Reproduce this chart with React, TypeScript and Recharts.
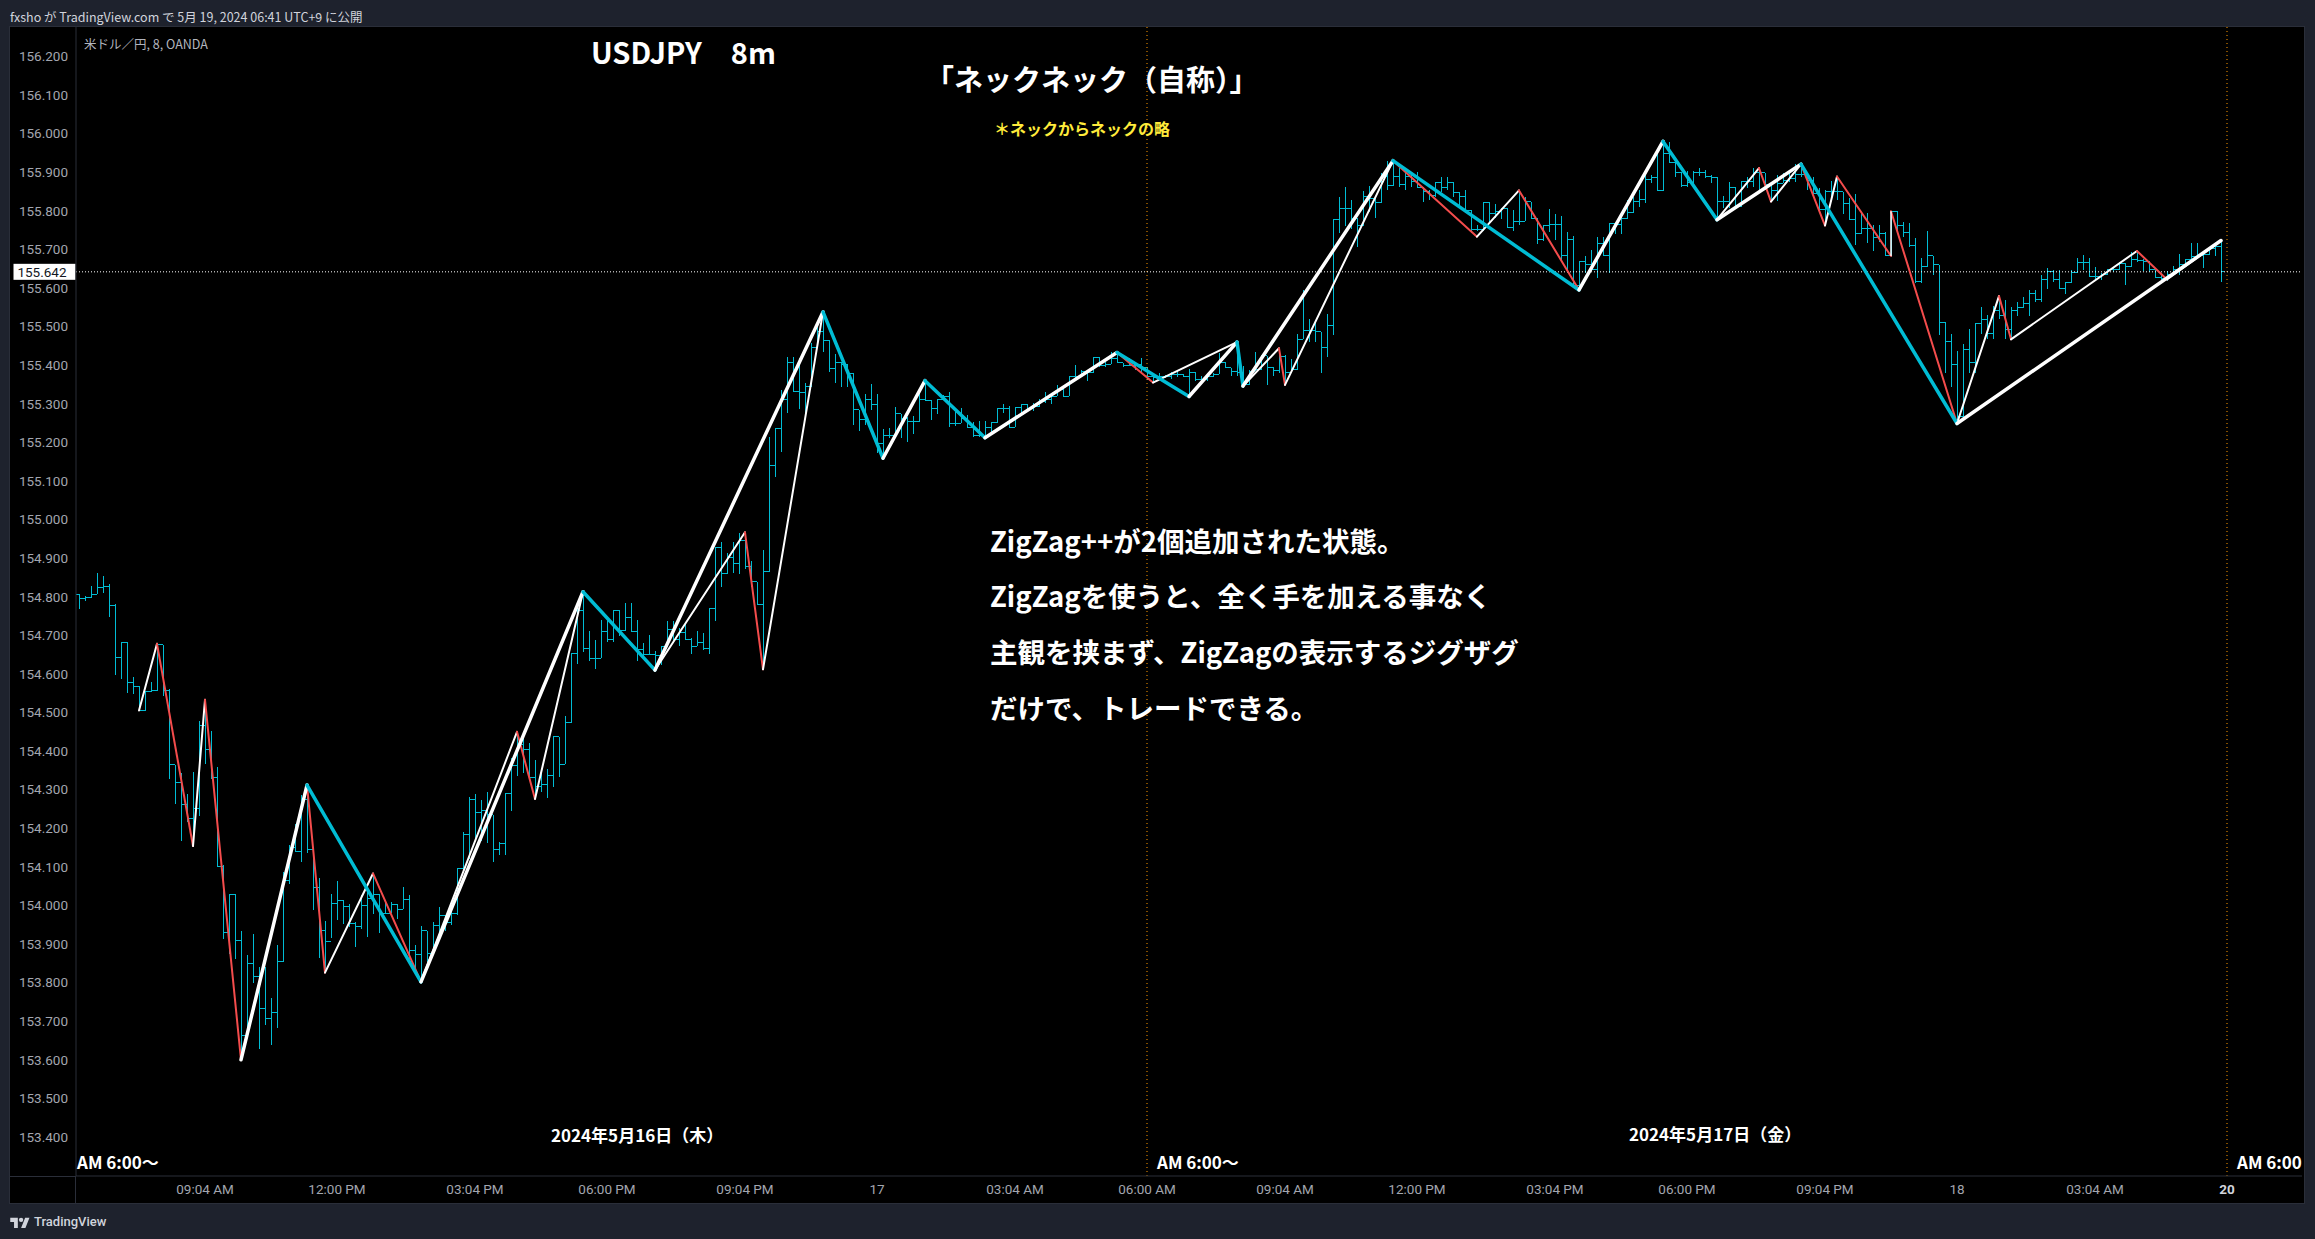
// App.tsx
//
// USDJPY 8m OHLC chart with two ZigZag overlays, drawn with recharts.
// Bars are a range Bar with a custom shape, the zigzags are one Line per leg.

import {
  ComposedChart,
  Bar,
  Line,
  XAxis,
  YAxis,
  ReferenceLine,
} from "recharts";

const opens = [
  154.806,154.796,154.798,154.806,154.824,154.827,154.778,154.643,154.682,154.578,
  154.568,154.505,154.554,154.556,154.676,154.558,154.365,154.319,154.262,154.225,
  154.251,154.466,154.405,154.332,154.100,153.930,154.028,153.909,153.663,153.849,
  153.816,153.733,153.707,153.722,153.854,154.065,154.149,154.141,154.275,154.146,
  154.046,153.935,153.906,154.005,154.013,153.997,153.954,153.945,153.999,154.018,
  154.028,153.979,153.980,154.002,153.990,154.016,153.883,153.874,153.934,153.875,
  153.949,153.975,153.955,153.980,154.095,154.185,154.274,154.242,154.245,154.235,
  154.146,154.160,154.289,154.363,154.418,154.404,154.332,154.309,154.314,154.337,
  154.437,154.366,154.474,154.653,154.765,154.666,154.640,154.640,154.711,154.688,
  154.765,154.712,154.746,154.710,154.664,154.651,154.651,154.648,154.672,154.714,
  154.688,154.708,154.688,154.672,154.681,154.666,154.770,154.928,154.859,154.902,
  154.885,154.947,154.878,154.839,154.781,154.865,155.141,155.236,155.310,155.407,
  155.331,155.329,155.344,155.446,155.487,155.465,155.392,155.408,155.403,155.379,
  155.284,155.260,155.312,155.297,155.198,155.217,155.217,155.274,155.262,155.255,
  155.255,155.310,155.308,155.288,155.310,155.320,155.249,155.249,155.262,155.239,
  155.217,155.217,155.239,155.251,155.288,155.288,155.239,155.291,155.299,155.288,
  155.293,155.306,155.310,155.319,155.338,155.319,155.372,155.370,155.383,155.381,
  155.420,155.398,155.403,155.418,155.407,155.400,155.400,155.401,155.395,155.372,
  155.369,155.372,155.371,155.375,155.377,155.372,155.382,155.364,155.362,155.371,
  155.377,155.408,155.393,155.384,155.382,155.349,155.384,155.390,155.424,155.395,
  155.386,155.422,155.382,155.388,155.467,155.490,155.490,155.487,155.447,155.504,
  155.777,155.807,155.807,155.781,155.761,155.837,155.833,155.822,155.889,155.865,
  155.889,155.867,155.889,155.876,155.861,155.850,155.841,155.873,155.861,155.873,
  155.848,155.837,155.801,155.751,155.751,155.822,155.794,155.798,155.807,155.758,
  155.772,155.773,155.823,155.781,155.727,155.761,155.764,155.764,155.685,155.725,
  155.606,155.670,155.660,155.647,155.716,155.683,155.766,155.764,155.779,155.796,
  155.823,155.829,155.882,155.887,155.852,155.948,155.926,155.900,155.865,155.874,
  155.900,155.900,155.889,155.887,155.825,155.825,155.861,155.811,155.876,155.876,
  155.900,155.899,155.867,155.853,155.872,155.879,155.885,155.895,155.895,155.879,
  155.846,155.804,155.850,155.850,155.850,155.818,155.778,155.742,155.755,155.755,
  155.730,155.742,155.684,155.799,155.761,155.744,155.709,155.616,155.655,155.684,
  155.660,155.511,155.461,155.403,155.266,155.441,155.406,155.508,155.519,155.482,
  155.543,155.530,155.493,155.543,155.550,155.560,155.586,155.571,155.622,155.642,
  155.622,155.599,155.615,155.640,155.666,155.666,155.631,155.631,155.634,155.647,
  155.647,155.664,155.655,155.674,155.672,155.670,155.647,155.628,155.624,155.634,
  155.647,155.660,155.674,155.681,155.685,155.688,155.703,155.707,
];

const highs = [
  154.806,154.803,154.827,154.861,154.853,154.832,154.780,154.682,154.682,154.592,
  154.568,154.555,154.578,154.676,154.676,154.560,154.365,154.342,154.290,154.345,
  154.478,154.533,154.453,154.358,154.104,154.031,154.031,153.933,153.871,153.926,
  153.841,153.841,153.759,153.897,154.087,154.156,154.212,154.286,154.312,154.148,
  154.072,153.961,154.031,154.063,154.013,154.005,153.958,154.027,154.044,154.083,
  154.031,154.009,154.008,154.005,154.047,154.028,153.897,153.946,153.934,153.956,
  153.995,153.975,153.990,154.095,154.190,154.280,154.288,154.273,154.293,154.235,
  154.165,154.291,154.381,154.450,154.443,154.420,154.377,154.351,154.354,154.437,
  154.437,154.491,154.653,154.770,154.813,154.711,154.689,154.741,154.741,154.765,
  154.765,154.785,154.783,154.741,154.679,154.702,154.659,154.672,154.737,154.737,
  154.718,154.731,154.692,154.711,154.705,154.770,154.928,154.941,154.914,154.943,
  154.964,154.967,154.892,154.839,154.921,155.215,155.238,155.337,155.420,155.420,
  155.418,155.353,155.457,155.500,155.538,155.465,155.428,155.409,155.403,155.379,
  155.284,155.325,155.351,155.325,155.234,155.236,155.291,155.274,155.267,155.268,
  155.331,155.360,155.310,155.312,155.323,155.331,155.284,155.288,155.271,155.254,
  155.256,155.256,155.251,155.288,155.300,155.294,155.293,155.300,155.299,155.303,
  155.312,155.331,155.323,155.350,155.340,155.373,155.401,155.388,155.383,155.422,
  155.422,155.409,155.433,155.431,155.407,155.418,155.409,155.418,155.395,155.379,
  155.379,155.375,155.383,155.386,155.377,155.390,155.382,155.372,155.375,155.379,
  155.431,155.408,155.393,155.460,155.398,155.388,155.434,155.427,155.424,155.396,
  155.444,155.427,155.416,155.481,155.595,155.520,155.517,155.487,155.533,155.777,
  155.835,155.861,155.827,155.781,155.852,155.865,155.837,155.898,155.928,155.928,
  155.911,155.902,155.898,155.900,155.861,155.854,155.876,155.887,155.887,155.876,
  155.850,155.854,155.801,155.764,155.824,155.824,155.818,155.807,155.807,155.801,
  155.854,155.835,155.824,155.781,155.764,155.804,155.792,155.787,155.746,155.734,
  155.671,155.683,155.699,155.732,155.732,155.768,155.766,155.784,155.827,155.837,
  155.854,155.893,155.893,155.950,155.980,155.978,155.939,155.900,155.902,155.902,
  155.911,155.906,155.893,155.887,155.839,155.876,155.861,155.876,155.889,155.911,
  155.911,155.899,155.867,155.893,155.898,155.902,155.921,155.921,155.895,155.889,
  155.859,155.853,155.878,155.889,155.850,155.833,155.844,155.798,155.794,155.764,
  155.763,155.746,155.799,155.799,155.770,155.768,155.729,155.677,155.748,155.684,
  155.660,155.511,155.481,155.437,155.456,155.493,155.508,155.550,155.530,155.553,
  155.579,155.570,155.550,155.564,155.576,155.596,155.596,155.634,155.651,155.647,
  155.648,155.615,155.647,155.679,155.685,155.677,155.655,155.638,155.647,155.651,
  155.668,155.664,155.694,155.694,155.674,155.670,155.647,155.634,155.644,155.658,
  155.687,155.674,155.716,155.716,155.691,155.704,155.716,155.723,
];

const lows = [
  154.768,154.789,154.798,154.806,154.810,154.748,154.597,154.587,154.551,154.548,
  154.504,154.505,154.554,154.555,154.543,154.329,154.263,154.167,154.217,154.154,
  154.232,154.367,154.329,154.100,153.914,153.875,153.862,153.600,153.663,153.798,
  153.629,153.690,153.638,153.683,153.854,154.056,154.139,154.113,154.135,153.988,
  153.864,153.826,153.917,153.962,153.953,153.945,153.892,153.940,153.918,153.979,
  153.928,153.979,153.980,153.964,153.990,153.862,153.832,153.802,153.854,153.875,
  153.925,153.935,153.950,153.975,154.090,154.120,154.168,154.168,154.163,154.112,
  154.131,154.131,154.245,154.335,154.344,154.332,154.276,154.295,154.279,154.306,
  154.333,154.366,154.474,154.627,154.657,154.634,154.614,154.640,154.682,154.682,
  154.699,154.712,154.710,154.634,154.645,154.651,154.610,154.623,154.670,154.679,
  154.673,154.688,154.651,154.672,154.662,154.651,154.738,154.826,154.859,154.861,
  154.859,154.873,154.826,154.780,154.612,154.865,155.111,155.176,155.277,155.331,
  155.287,155.262,155.344,155.446,155.435,155.383,155.353,155.344,155.344,155.245,
  155.230,155.245,155.284,155.172,155.159,155.211,155.211,155.211,155.202,155.223,
  155.254,155.308,155.258,155.274,155.310,155.241,155.242,155.249,155.236,155.215,
  155.215,155.217,155.228,155.251,155.277,155.238,155.239,155.274,155.280,155.282,
  155.293,155.301,155.300,155.319,155.317,155.319,155.366,155.369,155.360,155.379,
  155.396,155.395,155.403,155.405,155.396,155.398,155.388,155.383,155.362,155.357,
  155.366,155.366,155.364,155.369,155.369,155.317,155.358,155.353,155.358,155.369,
  155.377,155.393,155.372,155.372,155.346,155.349,155.384,155.388,155.349,155.371,
  155.379,155.349,155.379,155.388,155.467,155.461,155.461,155.379,155.422,155.477,
  155.742,155.761,155.752,155.706,155.761,155.796,155.781,155.820,155.854,155.865,
  155.863,155.854,155.863,155.859,155.824,155.828,155.835,155.850,155.854,155.837,
  155.811,155.794,155.742,155.749,155.749,155.772,155.781,155.778,155.755,155.749,
  155.764,155.773,155.781,155.715,155.721,155.744,155.725,155.669,155.638,155.604,
  155.595,155.638,155.643,155.626,155.683,155.640,155.740,155.740,155.779,155.794,
  155.810,155.820,155.872,155.852,155.852,155.924,155.889,155.861,155.861,155.869,
  155.891,155.886,155.872,155.778,155.807,155.807,155.807,155.811,155.859,155.863,
  155.854,155.853,155.826,155.826,155.872,155.876,155.876,155.889,155.854,155.846,
  155.803,155.762,155.829,155.829,155.792,155.777,155.712,155.740,155.716,155.695,
  155.720,155.684,155.681,155.742,155.733,155.707,155.612,155.612,155.655,155.634,
  155.478,155.379,155.344,155.249,155.266,155.379,155.379,155.482,155.467,155.469,
  155.521,155.467,155.467,155.527,155.547,155.528,155.564,155.564,155.598,155.616,
  155.599,155.584,155.612,155.640,155.647,155.631,155.622,155.621,155.634,155.642,
  155.647,155.608,155.655,155.668,155.645,155.642,155.625,155.621,155.618,155.634,
  155.634,155.658,155.674,155.681,155.651,155.685,155.684,155.616,
];

const closes = [
  154.796,154.798,154.806,154.824,154.827,154.778,154.643,154.682,154.578,154.568,
  154.505,154.554,154.556,154.676,154.558,154.365,154.319,154.262,154.225,154.251,
  154.466,154.405,154.332,154.100,153.930,154.028,153.909,153.663,153.849,153.816,
  153.733,153.707,153.722,153.854,154.065,154.149,154.141,154.275,154.146,154.046,
  153.935,153.906,154.005,154.013,153.997,153.954,153.945,153.999,154.018,154.028,
  153.979,153.980,154.002,153.990,154.016,153.883,153.874,153.934,153.875,153.949,
  153.975,153.955,153.980,154.095,154.185,154.274,154.242,154.245,154.235,154.146,
  154.160,154.289,154.363,154.418,154.404,154.332,154.309,154.314,154.337,154.437,
  154.366,154.474,154.653,154.765,154.666,154.640,154.640,154.711,154.688,154.765,
  154.712,154.746,154.710,154.664,154.651,154.651,154.648,154.672,154.714,154.688,
  154.708,154.688,154.672,154.681,154.666,154.770,154.928,154.859,154.902,154.885,
  154.947,154.878,154.839,154.781,154.865,155.141,155.236,155.310,155.407,155.331,
  155.329,155.344,155.446,155.487,155.465,155.392,155.408,155.403,155.379,155.284,
  155.260,155.312,155.297,155.198,155.217,155.217,155.274,155.262,155.255,155.255,
  155.310,155.308,155.288,155.310,155.320,155.249,155.249,155.262,155.239,155.217,
  155.217,155.239,155.251,155.288,155.288,155.239,155.291,155.299,155.288,155.293,
  155.306,155.310,155.319,155.338,155.319,155.372,155.370,155.383,155.381,155.420,
  155.398,155.403,155.418,155.407,155.400,155.400,155.401,155.395,155.372,155.369,
  155.372,155.371,155.375,155.377,155.372,155.382,155.364,155.362,155.371,155.377,
  155.408,155.393,155.384,155.382,155.349,155.384,155.390,155.424,155.395,155.386,
  155.422,155.382,155.388,155.467,155.490,155.490,155.487,155.447,155.504,155.777,
  155.807,155.807,155.781,155.761,155.837,155.833,155.822,155.889,155.865,155.889,
  155.867,155.889,155.876,155.861,155.850,155.841,155.873,155.861,155.873,155.848,
  155.837,155.801,155.751,155.751,155.822,155.794,155.798,155.807,155.758,155.772,
  155.773,155.823,155.781,155.727,155.761,155.764,155.764,155.685,155.725,155.606,
  155.670,155.660,155.647,155.716,155.683,155.766,155.764,155.779,155.796,155.823,
  155.829,155.882,155.887,155.852,155.948,155.926,155.900,155.865,155.874,155.900,
  155.900,155.889,155.887,155.825,155.825,155.861,155.811,155.876,155.876,155.900,
  155.899,155.867,155.853,155.872,155.879,155.885,155.895,155.895,155.879,155.846,
  155.804,155.850,155.850,155.850,155.818,155.778,155.742,155.755,155.755,155.730,
  155.742,155.684,155.799,155.761,155.744,155.709,155.616,155.655,155.684,155.660,
  155.511,155.461,155.403,155.266,155.441,155.406,155.508,155.519,155.482,155.543,
  155.530,155.493,155.543,155.550,155.560,155.586,155.571,155.622,155.642,155.622,
  155.599,155.615,155.640,155.666,155.666,155.631,155.631,155.634,155.647,155.647,
  155.664,155.655,155.674,155.672,155.670,155.647,155.628,155.624,155.634,155.647,
  155.660,155.674,155.681,155.685,155.688,155.703,155.707,155.642,
];

// zigzag pivots as [bar index, price]
const minorPivots = [
  [10,154.505],[13,154.678],[19,154.154],[21,154.533],[27,153.600],[38,154.312],
  [41,153.826],[49,154.083],[57,153.802],[73,154.450],[76,154.276],[84,154.813],
  [96,154.610],[111,154.967],[114,154.612],[124,155.538],[134,155.159],[141,155.360],
  [151,155.212],[173,155.433],[179,155.355],[193,155.460],[194,155.346],[200,155.444],
  [201,155.349],[219,155.930],[233,155.733],[240,155.853],[250,155.595],[264,155.980],
  [273,155.777],[280,155.911],[282,155.824],[287,155.921],[291,155.762],[293,155.889],
  [302,155.683],[302,155.799],[313,155.249],[320,155.579],[322,155.467],[343,155.696],
  [348,155.622],[357,155.723],
];

const majorPivots = [
  [27,153.600],[38,154.312],[57,153.802],[84,154.813],[96,154.610],[124,155.538],
  [134,155.159],[141,155.360],[151,155.212],[173,155.433],[185,155.319],[193,155.460],
  [194,155.346],[219,155.930],[250,155.595],[264,155.980],[273,155.777],[287,155.921],
  [313,155.249],[357,155.723],
];

const priceTicks = [
  153.4,153.5,153.6,153.7,153.8,153.9,154.0,154.1,154.2,154.3,154.4,154.5,154.6,154.7,
  154.8,154.9,155.0,155.1,155.2,155.3,155.4,155.5,155.6,155.7,155.8,155.9,156.0,156.1,156.2,
];

const timeTickBars = [21,43,66,88,111,133,156,178,201,223,246,268,291,313,336,358];
const timeTickLabels = [
  "09:04 AM","12:00 PM","03:04 PM","06:00 PM","09:04 PM","17","03:04 AM","06:00 AM",
  "09:04 AM","12:00 PM","03:04 PM","06:00 PM","09:04 PM","18","03:04 AM","20",
];

const sessionBars = [178, 358];
const lastPrice = 155.642;
const slotCount = 371;

const BAR_COLOR = "#00bcd4";
const RED = "#f44c4c";
const WHITE = "#ffffff";
const AXIS_TEXT = "#a3a6af";
const FRAME = "#2a2e39";
const PAGE_BG = "#1e222d";
const JP_FONT = '"Noto Sans CJK JP", "Noto Sans", sans-serif';
const AXIS_FONT = 'Roboto, "Noto Sans", sans-serif';

type Leg = { key: string; from: number[]; to: number[]; width: number; stroke: string };

function buildLegs(pivots: number[][], name: string, downColor: string, width: number): Leg[] {
  const legs: Leg[] = [];
  for (let n = 0; n < pivots.length - 1; n++) {
    const from = pivots[n];
    const to = pivots[n + 1];
    legs.push({
      key: `${name}${n}`,
      from,
      to,
      width,
      stroke: to[1] > from[1] ? WHITE : downColor,
    });
  }
  return legs;
}

const minorLegs = buildLegs(minorPivots, "minor", RED, 2);
const majorLegs = buildLegs(majorPivots, "major", BAR_COLOR, 3.5);
const allLegs = [...minorLegs, ...majorLegs];

const rows: Record<string, any>[] = [];
for (let idx = 0; idx < slotCount; idx++) {
  const row: Record<string, any> = { idx };
  if (idx < closes.length) {
    row.open = opens[idx];
    row.high = highs[idx];
    row.low = lows[idx];
    row.close = closes[idx];
    row.range = [lows[idx], highs[idx]];
  }
  rows.push(row);
}
for (const leg of allLegs) {
  if (leg.from[0] === leg.to[0]) continue;
  rows[leg.from[0]][leg.key] = leg.from[1];
  rows[leg.to[0]][leg.key] = leg.to[1];
}

function OhlcShape(props: any) {
  const { x, y, width, height, payload } = props;
  if (payload == null || payload.range == null || !(height > 0)) return null;
  const cx = x + width / 2;
  const perUnit = height / (payload.high - payload.low);
  const openY = y + (payload.high - payload.open) * perUnit;
  const closeY = y + (payload.high - payload.close) * perUnit;
  return (
    <g stroke={BAR_COLOR} strokeWidth={1} shapeRendering="crispEdges">
      <line x1={cx} x2={cx} y1={y} y2={y + height} />
      <line x1={cx - 3} x2={cx} y1={openY} y2={openY} />
      <line x1={cx} x2={cx + 3} y1={closeY} y2={closeY} />
    </g>
  );
}

function TimeTick(props: any) {
  const { x, y, payload } = props;
  const label = timeTickLabels[timeTickBars.indexOf(payload.value)];
  const bold = label === "20";
  return (
    <text
      x={x}
      y={y + 10}
      textAnchor="middle"
      fontFamily={AXIS_FONT}
      fontSize={13.5}
      fontWeight={bold ? 700 : 400}
      fill={bold ? "#d1d4dc" : AXIS_TEXT}
    >
      {label}
    </text>
  );
}

function LastPriceLabel(props: any) {
  const { viewBox } = props;
  if (!viewBox) return null;
  return (
    <g>
      <rect x={viewBox.x - 62.5} y={viewBox.y - 8} width={62} height={16} fill={WHITE} />
      <text
        x={viewBox.x - 9.5}
        y={viewBox.y + 5}
        textAnchor="end"
        fontFamily={AXIS_FONT}
        fontSize={13.5}
        fill="#131722"
      >
        {lastPrice.toFixed(3)}
      </text>
    </g>
  );
}

function Note(props: {
  x: number;
  y: number;
  size: number;
  color?: string;
  weight?: number;
  font?: string;
  children: string;
}) {
  return (
    <div
      style={{
        position: "absolute",
        left: props.x,
        top: props.y,
        transform: "translateY(-50%)",
        fontFamily: props.font ?? JP_FONT,
        fontSize: props.size,
        fontWeight: props.weight ?? 700,
        color: props.color ?? WHITE,
        whiteSpace: "pre",
        lineHeight: 1.2,
      }}
    >
      {props.children}
    </div>
  );
}

export default function App() {
  return (
    <div
      style={{
        position: "absolute",
        left: 0,
        top: 0,
        width: 2315,
        height: 1239,
        background: PAGE_BG,
        overflow: "hidden",
      }}
    >
      <Note x={10} y={15.5} size={12.5} weight={400} color="#d1d4dc">
        fxsho が TradingView.com で 5月 19, 2024 06:41 UTC+9 に公開
      </Note>

      <div
        style={{
          position: "absolute",
          left: 10,
          top: 27,
          width: 2294,
          height: 1176,
          background: "#000",
          outline: `1px solid ${FRAME}`,
          overflow: "hidden",
        }}
      >
        <ComposedChart
          width={2294}
          height={1176}
          data={rows}
          barCategoryGap={0}
          margin={{ top: 0, right: 2, bottom: 0, left: 0 }}
        >
          <XAxis
            dataKey="idx"
            ticks={timeTickBars}
            interval={0}
            height={27}
            axisLine={{ stroke: FRAME }}
            tickLine={false}
            tick={TimeTick}
          />
          <YAxis
            width={66}
            domain={[153.299, 156.2764]}
            ticks={priceTicks}
            interval={0}
            axisLine={{ stroke: FRAME }}
            tickLine={false}
            tickMargin={2}
            tickFormatter={(v: number) => v.toFixed(3)}
            tick={{ fontSize: 13.5, fontFamily: AXIS_FONT, fill: AXIS_TEXT }}
          />
          {sessionBars.map((bar) => (
            <ReferenceLine
              key={bar}
              x={bar}
              stroke="#ff9800"
              strokeWidth={1}
              strokeDasharray="1 3"
            />
          ))}
          <ReferenceLine
            y={lastPrice}
            stroke={WHITE}
            strokeWidth={1}
            strokeDasharray="1 2"
            label={<LastPriceLabel />}
          />
          <Bar dataKey="range" shape={OhlcShape} isAnimationActive={false} />
          {allLegs
            .filter((leg) => leg.from[0] !== leg.to[0])
            .map((leg) => (
              <Line
                key={leg.key}
                dataKey={leg.key}
                type="linear"
                connectNulls
                dot={false}
                activeDot={false}
                stroke={leg.stroke}
                strokeWidth={leg.width}
                strokeLinecap="round"
                isAnimationActive={false}
              />
            ))}
          {allLegs
            .filter((leg) => leg.from[0] === leg.to[0])
            .map((leg) => (
              <ReferenceLine
                key={leg.key}
                segment={[
                  { x: leg.from[0], y: leg.from[1] },
                  { x: leg.to[0], y: leg.to[1] },
                ]}
                stroke={WHITE}
                strokeWidth={1.5}
              />
            ))}
        </ComposedChart>
      </div>

      <div style={{ position: "absolute", left: 75, top: 1176, width: 1, height: 27, background: FRAME }} />
      <div style={{ position: "absolute", left: 10, top: 1176, width: 66, height: 1, background: FRAME }} />

      <Note x={84} y={42.7} size={12.5} weight={400} color="#b2b5be">
        米ドル／円, 8, OANDA
      </Note>
      <Note x={591} y={50.5} size={29}>USDJPY　8m</Note>
      <Note x={925} y={78} size={29}>「ネックネック（自称）」</Note>
      <Note x={994} y={128.5} size={16} color="#ffeb3b">＊ネックからネックの略</Note>
      <Note x={990} y={540} size={27.5}>ZigZag++が2個追加された状態。</Note>
      <Note x={990} y={595} size={27.5}>ZigZagを使うと、全く手を加える事なく</Note>
      <Note x={990} y={651} size={27.5}>主観を挟まず、ZigZagの表示するジグザグ</Note>
      <Note x={990} y={707} size={27.5}>だけで、トレードできる。</Note>
      <Note x={551} y={1135} size={17}>2024年5月16日（木）</Note>
      <Note x={1629} y={1134} size={17}>2024年5月17日（金）</Note>
      <Note x={77} y={1162} size={17}>AM 6:00〜</Note>
      <Note x={1157} y={1162} size={17}>AM 6:00〜</Note>
      <Note x={2237} y={1162} size={17}>AM 6:00</Note>

      <svg
        style={{ position: "absolute", left: 10, top: 1216 }}
        width={20}
        height={13}
        viewBox="0 0 36 24"
        fill="#d1d4dc"
      >
        <path d="M14 22H7V11H0V3h14v19zM28 22h-8l7.5-19h8L28 22z" />
        <circle cx="20" cy="7" r="4" />
      </svg>
      <Note x={34} y={1222} size={13} weight={500} color="#d1d4dc" font={AXIS_FONT}>
        TradingView
      </Note>
    </div>
  );
}
